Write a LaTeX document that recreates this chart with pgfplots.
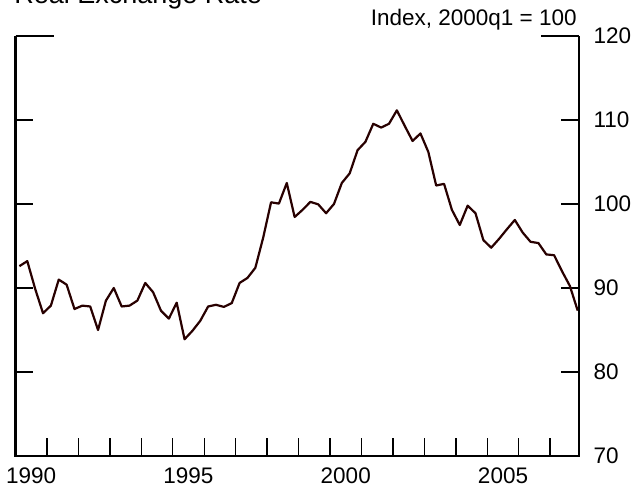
\documentclass[border=0pt]{standalone}
\usepackage{fontspec}
\setmainfont{Liberation Sans}
\usepackage{pgfplots}
\pgfplotsset{compat=1.18}
\definecolor{lc}{RGB}{40,0,0}
\begin{document}
\begin{tikzpicture}
\useasboundingbox (-7.75pt,-18pt) rectangle (310.25pt,228pt);
\begin{axis}[
  at={(0pt,0pt)}, anchor=south west,
  scale only axis, width=281.5pt, height=210pt,
  xmin=1990, xmax=2007.9, ymin=70, ymax=120,
  axis line style={draw=none},
  tick align=inside,
  xtick={1990.5,1995.5,2000.5,2005.5},
  xticklabels={1990,1995,2000,2005},
  major x tick style={draw=none},
  minor xtick={1991,1992,...,2007},
  xtick pos=left,
  ytick={70,80,...,120},
  ytick pos=both,
  yticklabel pos=right,
  major tick length=9pt, minor tick length=9pt,
  tick style={black, line width=0.7pt},
  ticklabel style={font=\fontsize{11.25}{13}\selectfont},
  /pgf/number format/assume math mode=true,
  yticklabel style={anchor=west, xshift=4pt},
  xticklabel style={yshift=-2.3pt},
]
\addplot[lc, line width=1.1pt, line join=round, mark=none] coordinates {
(1990.125,92.6) (1990.375,93.2) (1990.625,89.9) (1990.875,87.0)
(1991.125,87.9) (1991.375,91.0) (1991.625,90.4) (1991.875,87.5)
(1992.125,87.9) (1992.375,87.8) (1992.625,85.0) (1992.875,88.5)
(1993.125,90.0) (1993.375,87.8) (1993.625,87.9) (1993.875,88.5)
(1994.125,90.6) (1994.375,89.5) (1994.625,87.3) (1994.875,86.35)
(1995.125,88.25) (1995.375,83.9) (1995.625,84.9) (1995.875,86.1)
(1996.125,87.8) (1996.375,88.0) (1996.625,87.75) (1996.875,88.2)
(1997.125,90.6) (1997.375,91.2) (1997.625,92.4) (1997.875,96.0)
(1998.125,100.2) (1998.375,100.05) (1998.625,102.5) (1998.875,98.45)
(1999.125,99.3) (1999.375,100.25) (1999.625,99.96) (1999.875,98.9)
(2000.125,100.0) (2000.375,102.5) (2000.625,103.65) (2000.875,106.4)
(2001.125,107.4) (2001.375,109.55) (2001.625,109.1) (2001.875,109.55)
(2002.125,111.15) (2002.375,109.3) (2002.625,107.5) (2002.875,108.4)
(2003.125,106.2) (2003.375,102.2) (2003.625,102.4) (2003.875,99.3)
(2004.125,97.5) (2004.375,99.8) (2004.625,98.9) (2004.875,95.7)
(2005.125,94.8) (2005.375,95.85) (2005.625,97.0) (2005.875,98.1)
(2006.125,96.6) (2006.375,95.5) (2006.625,95.35) (2006.875,94.0)
(2007.125,93.9) (2007.375,92.0) (2007.625,90.25) (2007.875,87.3)
};
\end{axis}
\draw[black, line width=1pt] (0pt,210pt) -- (0pt,0pt) -- (281.5pt,0pt) -- (281.5pt,210pt);
\draw[black, line width=0.7pt] (0pt,210pt) -- (19pt,210pt);
\draw[black, line width=0.7pt] (281.5pt,210pt) -- (262.5pt,210pt);
\node[anchor=base west, font=\fontsize{13.5}{16}\selectfont, inner sep=0pt] at (-0.75pt,226pt) {Real Exchange Rate};
\node[anchor=base east, font=\fontsize{11.25}{13}\selectfont, inner sep=0pt] at (280.75pt,215pt) {Index, 2000q1 = 100};
\end{tikzpicture}
\end{document}
